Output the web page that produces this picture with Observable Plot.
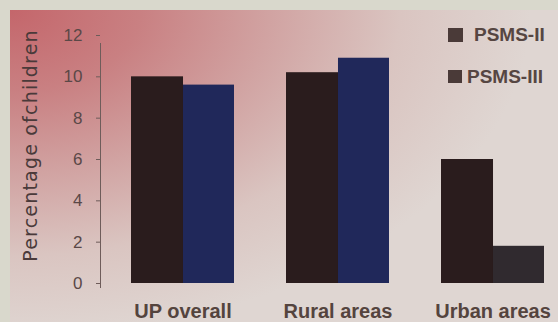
<!DOCTYPE html>
<html>
<head>
<meta charset="utf-8">
<script src="https://cdn.jsdelivr.net/npm/d3@7"></script>
<script src="https://cdn.jsdelivr.net/npm/@observablehq/plot@0.6"></script>
<style>
  html, body { margin: 0; padding: 0; background: #d9d8cc; }
  #wrap { position: relative; width: 558px; height: 322px; overflow: hidden; background: #d9d8cc; }
  #panel {
    position: absolute; left: 10px; top: 10px; right: 0; bottom: 0;
    background: radial-gradient(ellipse 95% 105% at 0% 0%, #c4666b 0%, #c98082 25%, #d1a3a2 50%, #dac5c1 75%, #dfd6d2 100%);
  }
  #chart { position: absolute; left: 0; top: 0; }
  #chart svg { background: transparent; display: block; }
  .sw { position: absolute; background: #4a3a38; }
  .lt { position: absolute; font: bold 19px "Liberation Sans", Arial, sans-serif; color: #564642; line-height: 1; white-space: nowrap; }
</style>
</head>
<body>
<div id="wrap">
  <div id="panel"></div>
  <div id="chart"></div>
  <div class="sw" style="left:448px;top:28px;width:15px;height:14px"></div>
  <div class="lt" style="left:474px;top:25px">PSMS-II</div>
  <div class="sw" style="left:448px;top:70px;width:14px;height:13px"></div>
  <div class="lt" style="left:467px;top:67px">PSMS-III</div>
</div>
<script>
// Share of children, by survey round and area
const categories = ["UP overall", "Rural areas", "Urban areas"];
const series = ["PSMS-II", "PSMS-III"];
const psms2 = [10.0, 10.2, 6.0];
const psms3 = [9.6, 10.9, 1.8];
const yTicks = [0, 2, 4, 6, 8, 10, 12];
const yLabel = "Percentage ofchildren";

const rows = categories.flatMap((c, i) => [
  {category: c, series: series[0], value: psms2[i]},
  {category: c, series: series[1], value: psms3[i]}
]);

const W = 558, H = 322;
const margins = {marginLeft: 100, marginRight: 0, marginTop: 35, marginBottom: 39};
const xOpts = {domain: categories, paddingInner: 1 / 3, paddingOuter: 0.135, align: 0.69};

// each category band holds the two rounds side by side
const half = Plot.scale({x: {type: "band", ...xOpts, range: [margins.marginLeft, W - margins.marginRight]}}).bandwidth / 2;

const colors = {"PSMS-II": "#2a1c1d", "PSMS-III": "#20285a"};
const fillOf = d => (d.category === "Urban areas" && d.series === "PSMS-III") ? "#302a2f" : colors[d.series];

const chart = Plot.plot({
  width: W,
  height: H,
  ...margins,
  style: {fontFamily: "'Liberation Sans', Arial, sans-serif", background: "transparent"},
  color: {type: "identity"},
  x: {...xOpts, axis: null},
  y: {domain: [0, 12], axis: null},
  marks: [
    // the left bar runs slightly under its neighbour so no seam shows
    Plot.barY(rows.filter(d => d.series === series[0]), {x: "category", y: "value", fill: fillOf, insetRight: half - 1}),
    Plot.barY(rows.filter(d => d.series === series[1]), {x: "category", y: "value", fill: fillOf, insetLeft: half}),
    Plot.frame({anchor: "left", stroke: "#6e5c5a", insetTop: 8, insetBottom: -4}),
    Plot.axisY({ticks: yTicks, tickSize: 4, tickPadding: 14, stroke: "#6e5c5a", fill: "#5a4847", fontSize: 17, label: null}),
    Plot.axisX({tickSize: 0, tickPadding: 20, fill: "#54443e", fontSize: 20, fontWeight: "bold", label: null}),
    Plot.text([yLabel], {frameAnchor: "left", textAnchor: "middle", rotate: -90, dx: -70, dy: -14, fill: "#4a3a3a", fontSize: 19, fontFamily: "'DejaVu Sans', sans-serif"})
  ]
});
// spread the rotated axis title out along the axis
d3.select(chart).selectAll("text").filter(function () { return this.textContent === yLabel; })
  .attr("letter-spacing", "1.2px");
document.getElementById("chart").appendChild(chart);
</script>
</body>
</html>
